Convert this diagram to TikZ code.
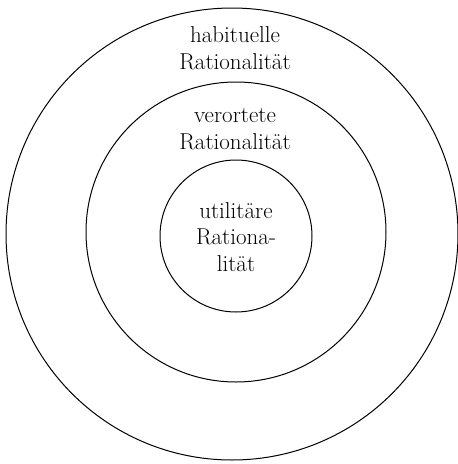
\documentclass[tikz,border=0pt]{standalone}
\begin{document}
\begin{tikzpicture}[x=1pt,y=-1pt,
  ring/.style={circle,draw,line width=1pt,inner sep=0pt},
  label/.style={align=center,font=\fontsize{23}{26.5}\selectfont}]
\useasboundingbox (0,0) rectangle (458,464);
\node[ring,minimum size=452pt] (habituell) at (232,234) {};
\node[ring,minimum size=300pt] (verortet) at (236,232) {};
\node[ring,minimum size=152pt] (utilitaer) at (236,236) {};
\node[label] (habtext) at (235,48) {habituelle\\Rationalität};
\node[label] (vertext) at (235,129) {verortete\\Rationalität};
\node[label] (uttext) at (236,237) {utilitäre\\Rationa-\\lität};
\end{tikzpicture}
\end{document}
